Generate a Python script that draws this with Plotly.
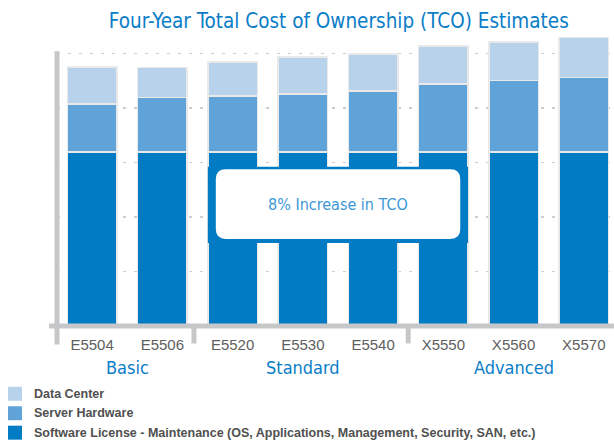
import plotly.graph_objects as go

# ---- data ----
models = ["E5504", "E5506", "E5520", "E5530", "E5540", "X5550", "X5560", "X5570"]
software = [3.19, 3.19, 3.19, 3.19, 3.19, 3.19, 3.19, 3.19]
server = [0.88, 1.00, 1.03, 1.06, 1.12, 1.25, 1.31, 1.37]
datacenter = [0.68, 0.55, 0.62, 0.68, 0.68, 0.69, 0.71, 0.73]
series_names = ["Software License - Maintenance (OS, Applications, Management, Security, SAN, etc.)",
                "Server Hardware", "Data Center"]
series_colors = ["#007bc4", "#60a3d8", "#b8d2eb"]
groups = ["Basic", "Standard", "Advanced"]
group_first = [0, 2, 5]
group_last = [1, 4, 7]
callout_text = "8% Increase in TCO"
title_text = "Four-Year Total Cost of Ownership (TCO) Estimates"

NARROW = "DejaVu Sans Condensed, Liberation Sans Narrow, Arial Narrow, sans-serif"
REG = "Liberation Sans, Arial, sans-serif"
BLUE = "#0a7dc8"
GREY_AX = "#c6c7c9"

xs = list(range(len(models)))
XR = [-0.5, 7.43]
YR = [0, 5.5]

fig = go.Figure()
for name, vals, col in zip(series_names, [software, server, datacenter], series_colors):
    fig.add_trace(go.Bar(x=xs, y=vals, name=name, marker_color=col,
                         marker_line_color="#e9e9e9", marker_line_width=1.5,
                         hoverinfo="skip", showlegend=False))

# pixel helpers for the plot area (l=57, width 557; bottom 326.5, height 300.9)
ph = 300.9
pw = 557
def py(pix):
    return (326.5 - pix) / ph
def px(pix):
    return (pix - 57) / pw

shapes = []
# callout box
bw = 1 - 0.295
shapes.append(dict(type="rect", xref="x", yref="y", x0=2 - bw / 2, x1=5 + bw / 2,
                   y0=1.52, y1=2.92, fillcolor=series_colors[0], line_width=0, layer="above"))
x0, x1, y0, y1 = 1.761, 5.241, 1.594, 2.874
rx, ry = 0.142, 0.183
path = (f"M{x0+rx},{y1} L{x1-rx},{y1} Q{x1},{y1} {x1},{y1-ry} L{x1},{y0+ry} "
        f"Q{x1},{y0} {x1-rx},{y0} L{x0+rx},{y0} Q{x0},{y0} {x0},{y0+ry} "
        f"L{x0},{y1-ry} Q{x0},{y1} {x0+rx},{y1} Z")
shapes.append(dict(type="path", xref="x", yref="y", path=path, fillcolor="white",
                   line_width=0, layer="above"))

# thick axes
shapes.append(dict(type="line", xref="paper", yref="paper", x0=px(49), x1=1, y0=0, y1=0,
                   line=dict(color=GREY_AX, width=5), layer="above"))
shapes.append(dict(type="line", xref="paper", yref="paper", x0=px(57), x1=px(57), y0=py(345), y1=py(51),
                   line=dict(color=GREY_AX, width=5), layer="above"))
for sx in [1.45, 4.5]:
    shapes.append(dict(type="line", xref="x", yref="paper", x0=sx, x1=sx, y0=0, y1=py(344),
                       line=dict(color=GREY_AX, width=5), layer="above"))

annotations = []
annotations.append(dict(text=callout_text, x=(x0 + x1) / 2, y=(y0 + y1) / 2, xref="x", yref="y",
                        showarrow=False, font=dict(family=NARROW, size=16, color="#3d97d6")))
for g, a, b in zip(groups, group_first, group_last):
    annotations.append(dict(text=g, x=(a + b) / 2, y=py(368), xref="x", yref="paper",
                            showarrow=False, yanchor="middle",
                            font=dict(family=NARROW, size=18, color=BLUE)))

# legend (drawn manually: squares + labels), top-to-bottom order is reversed stack order
leg_rows = [394.5, 414, 433.5]
for i, (name, col) in enumerate(zip(series_names[::-1], series_colors[::-1])):
    cy = leg_rows[i]
    shapes.append(dict(type="rect", xref="paper", yref="paper",
                       x0=px(8), x1=px(22), y0=py(cy + 7), y1=py(cy - 7),
                       fillcolor=col, line_width=0))
    annotations.append(dict(text=name, x=px(32), y=py(cy), xref="paper", yref="paper",
                            xanchor="left", yanchor="middle", showarrow=False,
                            font=dict(family=REG, size=12.5, color="#505050", weight="bold")))

fig.update_layout(
    width=614, height=443,
    margin=dict(l=57, r=0, t=25.6, b=116.5, autoexpand=False),
    paper_bgcolor="white", plot_bgcolor="white",
    barmode="stack", bargap=0.295,
    showlegend=False,
    hovermode=False,
    title=dict(text=title_text, x=338.8 / 614, xanchor="center", xref="container",
               y=(443 - 21) / 443, yanchor="middle", yref="container",
               font=dict(family=NARROW, size=20.5, color=BLUE)),
    xaxis=dict(range=XR, tickvals=xs, ticktext=models, showgrid=False, zeroline=False,
               showline=False, ticks="", ticklabelstandoff=8,
               tickfont=dict(family=REG, size=15, color="#5e5e5e")),
    yaxis=dict(range=YR, dtick=1, showgrid=True, gridcolor="#cdcdcd", gridwidth=1.5,
               griddash="3px,8px", zeroline=False, showline=False, showticklabels=False, ticks=""),
    shapes=shapes, annotations=annotations,
)

fig.write_html("out.html", config={"displayModeBar": False, "staticPlot": True},
               post_script="document.body.style.margin='0';")
